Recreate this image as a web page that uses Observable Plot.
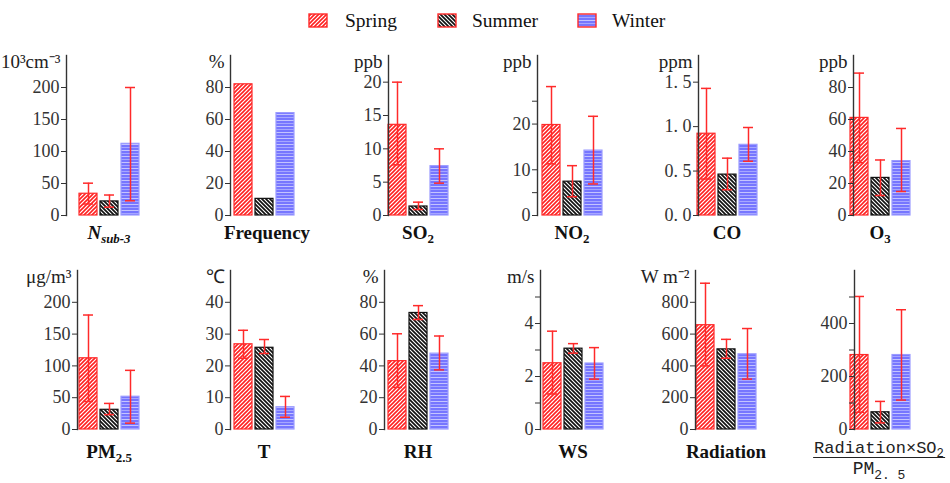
<!DOCTYPE html>
<html><head><meta charset="utf-8">
<script src="https://cdn.jsdelivr.net/npm/d3@7"></script>
<script src="https://cdn.jsdelivr.net/npm/@observablehq/plot@0.6"></script>
<style>
body{margin:0;background:#fff;}
#root{position:relative;width:950px;height:483px;overflow:hidden;font-family:"Liberation Serif",serif;color:#111;}
.panel{position:absolute;}
.panel svg{overflow:visible;}
.lab{position:absolute;transform:translate(-50%,-50%);font-weight:bold;font-size:19px;white-space:nowrap;line-height:1;}
.lab sub{font-size:0.68em;vertical-align:-0.35em;line-height:0;}
.lab.it{font-style:italic;}
.frac{position:absolute;transform:translateX(-50%);font-family:"Liberation Mono",monospace;font-size:17px;text-align:center;white-space:nowrap;color:#222;}
.frac .num{border-bottom:1.3px solid #222;line-height:17px;padding:0 1px;}
.frac .den{line-height:23px;font-size:18px;}
.frac sub{font-size:0.72em;vertical-align:-0.35em;line-height:0;}
.leg{position:absolute;font-size:19.5px;line-height:1;}
.sw{position:absolute;}
</style>
</head><body>
<svg width="0" height="0" style="position:absolute">
<defs>
<pattern id="pat-Spring" patternUnits="userSpaceOnUse" width="4" height="4">
 <rect width="4" height="4" fill="#fff"/>
 <path d="M-1,1 L1,-1 M0,4 L4,0 M3,5 L5,3" stroke="#ff2020" stroke-width="1.6"/>
</pattern>
<pattern id="pat-Summer" patternUnits="userSpaceOnUse" width="4" height="4">
 <rect width="4" height="4" fill="#111"/>
 <path d="M-1,3 L1,5 M0,0 L4,4 M3,-1 L5,1" stroke="#fff" stroke-width="1.1"/>
</pattern>
<pattern id="pat-Winter" patternUnits="userSpaceOnUse" width="6" height="6">
 <rect width="6" height="6" fill="#7676ff"/>
 <rect y="1" width="6" height="1" fill="#c4c4ff"/>
 <rect y="4" width="6" height="1" fill="#a6a6ff"/>
</pattern>
</defs></svg>
<div id="root"></div>
<script>
// ---------- data ----------
const seasons = ["Spring", "Summer", "Winter"];
const panelNames = ["Nsub-3","Frequency","SO2","NO2","CO","O3","PM2.5","T","RH","WS","Radiation","Radiation×SO2/PM2.5"];
const units = ["10³cm⁻³","%","ppb","ppb","ppm","ppb","μg/m³","℃","%","m/s","W m⁻²",""];

const springMean = [34, 82, 13.6, 19.8, 0.92, 61, 112, 26.8, 43, 2.5, 656, 281];
const summerMean = [22, 10.4, 1.35, 7.4, 0.46, 23.5, 31, 25.7, 73.3, 3.05, 504, 65];
const winterMean = [112, 64, 7.4, 14.2, 0.795, 34, 51.5, 7, 47.7, 2.49, 473, 281];

const springLow  = [18, null, 7.6, 11.3, 0.41, 33, 44, 22.4, 26.5, 1.34, 400, 65];
const springHigh = [50.5, null, 20, 28.2, 1.43, 89, 180, 31.2, 60.2, 3.71, 920, 502];
const summerLow  = [13, null, 0.9, 4.1, 0.29, 12.5, 23.4, 23.9, 69.2, 2.88, 448, 25];
const summerHigh = [32, null, 2.0, 10.9, 0.645, 34.7, 41, 28.3, 77.9, 3.24, 567, 106];
const winterLow  = [23, null, 4.85, 6.9, 0.61, 15, 10, 3.85, 37.5, 1.9, 317, 111];
const winterHigh = [200, null, 10, 21.7, 0.99, 54.4, 93, 10.4, 58.8, 3.09, 635, 452];

const yMax = [250, 100, 24, 35, 1.8, 100, 250, 50, 100, 6, 1000, 600];
const yTicks = [[0,50,100,150,200],[0,20,40,60,80],[0,5,10,15,20],[0,10,20],[0,0.5,1,1.5],[0,20,40,60,80],
                [0,50,100,150,200],[0,10,20,30,40],[0,20,40,60,80],[0,2,4],[0,200,400,600,800],[0,200,400]];
const yMinorTicks = [[],[],[],[5,25],[],[],[],[],[],[1,3,5],[],[100,300,500]];

// ---------- layout ----------
const axisX = [66,230,388,537,698,853, 77,230,384,540,695,854];
const barX0 = [79,234,388,542,697,850, 79,234,388,543,696,850];
const labelsHtml = [
  'N<sub>sub-3</sub>','Frequency','SO<sub>2</sub>','NO<sub>2</sub>','CO','O<sub>3</sub>',
  'PM<sub>2.5</sub>','T','RH','WS','Radiation',null];

const means = [springMean, summerMean, winterMean];
const lows = [springLow, summerLow, winterLow];
const highs = [springHigh, summerHigh, winterHigh];
const strokes = {Spring: "#ff2a2a", Summer: "#111", Winter: "#9b9bff"};
const errColor = "#ff2a2a";
const serif = "'Liberation Serif', 'Times New Roman', serif";

const root = document.getElementById("root");

// legend
const legX = [308, 437, 577], legTextX = [345, 472, 612];
seasons.forEach((s, j) => {
  const sw = document.createElement("div");
  sw.className = "sw";
  sw.style.left = legX[j] + "px"; sw.style.top = "13px";
  sw.innerHTML = `<svg width="20" height="15"><rect x="1" y="1" width="18" height="13" fill="url(#pat-${s})" stroke="#ff2a2a" stroke-width="1.4"/></svg>`;
  root.appendChild(sw);
  const t = document.createElement("div");
  t.className = "leg";
  t.style.left = legTextX[j] + "px"; t.style.top = "11px";
  t.textContent = s;
  root.appendChild(t);
});

panelNames.forEach((name, i) => {
  const row = i < 6 ? 0 : 1;
  const top = row === 0 ? 55 : 270, base = row === 0 ? 215 : 429;
  const mT = 20, mL = 62, mB = 12;
  const svgTop = top - mT, svgLeft = axisX[i] - mL;
  const height = base - svgTop + mB;
  const data = seasons.map((s, j) => ({season: s, value: means[j][i], low: lows[j][i], high: highs[j][i]}));
  const errs = data.filter(d => d.low != null);
  const x0 = barX0[i] - svgLeft;
  const fmt = i === 4 ? (d => d.toFixed(1).replace(".", ". ")) : (d => String(d));
  const marks = [];
  seasons.forEach(s => {
    marks.push(Plot.barY(data.filter(d => d.season === s), {x: "season", y: "value", fill: `url(#pat-${s})`, stroke: strokes[s], strokeWidth: 1.2}));
  });
  marks.push(Plot.ruleX(errs, {x: "season", y1: "low", y2: "high", stroke: errColor, strokeWidth: 1.5}));
  marks.push(Plot.tickY(errs, {x: "season", y: "high", stroke: errColor, strokeWidth: 1.5, insetLeft: 4, insetRight: 4}));
  marks.push(Plot.tickY(errs, {x: "season", y: "low", stroke: errColor, strokeWidth: 1.5, insetLeft: 4, insetRight: 4}));
  marks.push(Plot.frame({anchor: "left", stroke: "#333", strokeWidth: 1.4}));
  marks.push(Plot.axisY({ticks: yTicks[i], tickFormat: fmt, tickSize: 5, tickPadding: 2, label: null, stroke: "#333", color: "#333", fontFamily: serif, fontSize: 18}));
  if (yMinorTicks[i].length) marks.push(Plot.axisY({ticks: yMinorTicks[i], tickFormat: () => "", tickSize: 5, label: null, stroke: "#333"}));
  if (units[i]) marks.push(Plot.text([units[i]], {frameAnchor: "top-left", text: d => d, textAnchor: "end", lineAnchor: "middle", dx: -6, dy: 6, fontSize: 19, fontFamily: serif, fill: "#222"}));
  const plot = Plot.plot({
    width: 150, height, marginLeft: mL, marginTop: mT, marginBottom: mB, marginRight: 0,
    x: {domain: seasons, range: [x0, x0 + 60], paddingInner: 0.143, paddingOuter: 0, axis: null},
    y: {domain: [0, yMax[i]]},
    style: {fontFamily: serif, fontSize: "18px", color: "#333", background: "transparent", overflow: "visible"},
    marks
  });
  const div = document.createElement("div");
  div.className = "panel";
  div.style.left = svgLeft + "px"; div.style.top = svgTop + "px";
  div.appendChild(plot);
  root.appendChild(div);

  const cx = barX0[i] + 30;
  if (labelsHtml[i]) {
    const l = document.createElement("div");
    l.className = "lab" + (i === 0 ? " it" : "");
    l.style.left = (cx + (i === 1 ? 3 : 0)) + "px"; l.style.top = (row === 0 ? 232 : 451) + "px";
    l.innerHTML = labelsHtml[i];
    root.appendChild(l);
  } else {
    const f = document.createElement("div");
    f.className = "frac";
    f.style.left = (cx - 1) + "px"; f.style.top = "440px";
    f.innerHTML = '<div class="num">Radiation×SO<sub>2</sub></div><div class="den">PM<sub>2. 5</sub></div>';
    root.appendChild(f);
  }
});
</script>
</body></html>
